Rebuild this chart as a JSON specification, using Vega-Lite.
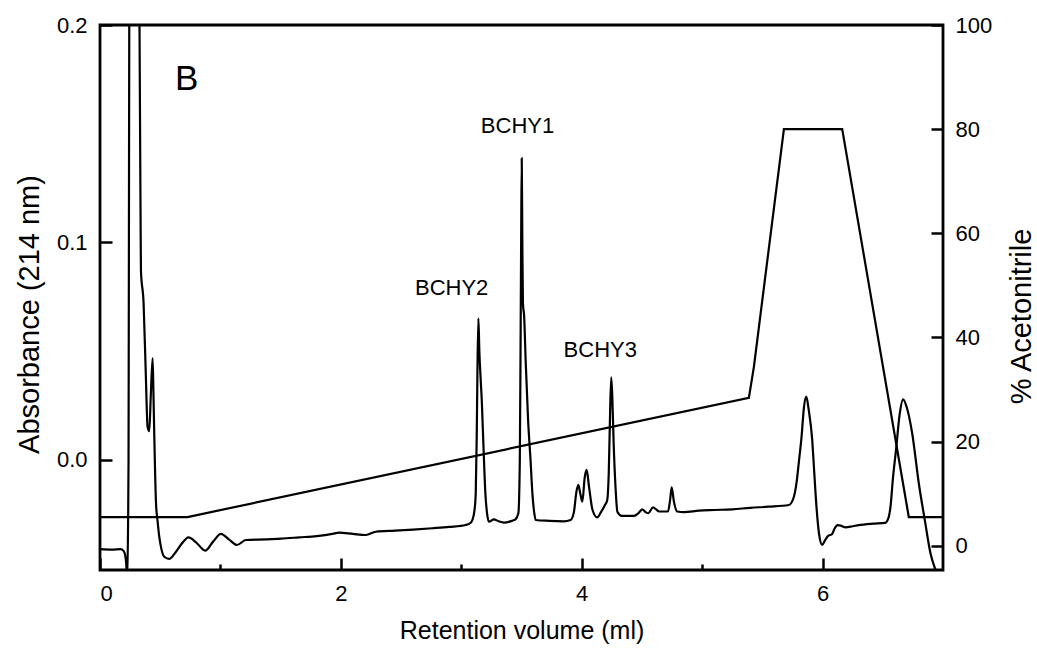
{
  "$schema": "https://vega.github.io/schema/vega-lite/v6.json",
  "width": 843,
  "height": 545,
  "autosize": {"type": "none"},
  "padding": {"left": 100, "top": 25, "right": 94, "bottom": 83},
  "background": "white",
  "config": {
    "view": {"stroke": "black", "strokeWidth": 2.8},
    "font": "Liberation Sans",
    "axis": {
      "domain": false,
      "grid": false,
      "tickColor": "black",
      "tickWidth": 2.5,
      "labelColor": "black",
      "titleColor": "black",
      "labelFont": "Liberation Sans",
      "titleFont": "Liberation Sans",
      "labelFontSize": 22,
      "titleFontSize": 29,
      "titleFontWeight": "normal"
    }
  },
  "datasets": {
    "trace": [
      {"v": 0.0, "a": -0.0410}, {"v": 0.10, "a": -0.0412}, {"v": 0.17, "a": -0.0410},
      {"v": 0.195, "a": -0.0418}, {"v": 0.208, "a": -0.0435}, {"v": 0.218, "a": -0.0480},
      {"v": 0.226, "a": -0.0560}, {"v": 0.233, "a": -0.0300}, {"v": 0.237, "a": 0.0},
      {"v": 0.240, "a": 0.1}, {"v": 0.243, "a": 0.2}, {"v": 0.25, "a": 0.32},
      {"v": 0.285, "a": 0.42}, {"v": 0.318, "a": 0.32}, {"v": 0.328, "a": 0.2},
      {"v": 0.336, "a": 0.12}, {"v": 0.340, "a": 0.087}, {"v": 0.362, "a": 0.072},
      {"v": 0.38, "a": 0.040}, {"v": 0.395, "a": 0.0153}, {"v": 0.409, "a": 0.0133},
      {"v": 0.422, "a": 0.030}, {"v": 0.437, "a": 0.0467}, {"v": 0.444, "a": 0.030},
      {"v": 0.451, "a": 0.0107}, {"v": 0.465, "a": -0.0198}, {"v": 0.478, "a": -0.0280},
      {"v": 0.492, "a": -0.0353}, {"v": 0.51, "a": -0.0410}, {"v": 0.534, "a": -0.0445},
      {"v": 0.575, "a": -0.0455}, {"v": 0.62, "a": -0.0430}, {"v": 0.672, "a": -0.0390},
      {"v": 0.735, "a": -0.0356}, {"v": 0.80, "a": -0.0380}, {"v": 0.874, "a": -0.0417},
      {"v": 0.94, "a": -0.0375}, {"v": 1.004, "a": -0.0340}, {"v": 1.07, "a": -0.0365},
      {"v": 1.137, "a": -0.0391}, {"v": 1.211, "a": -0.0368}, {"v": 1.378, "a": -0.0365},
      {"v": 1.50, "a": -0.0362}, {"v": 1.654, "a": -0.0356}, {"v": 1.80, "a": -0.0350},
      {"v": 1.930, "a": -0.0340}, {"v": 1.986, "a": -0.0334}, {"v": 2.10, "a": -0.0340},
      {"v": 2.207, "a": -0.0345}, {"v": 2.29, "a": -0.0330}, {"v": 2.45, "a": -0.0325},
      {"v": 2.60, "a": -0.0320}, {"v": 2.76, "a": -0.0314}, {"v": 2.90, "a": -0.0308},
      {"v": 3.037, "a": -0.0299}, {"v": 3.075, "a": -0.0290}, {"v": 3.092, "a": -0.0276},
      {"v": 3.110, "a": -0.0230}, {"v": 3.120, "a": -0.0153}, {"v": 3.128, "a": 0.0100},
      {"v": 3.134, "a": 0.0400}, {"v": 3.142, "a": 0.0651}, {"v": 3.150, "a": 0.0500},
      {"v": 3.160, "a": 0.0380}, {"v": 3.170, "a": 0.0276}, {"v": 3.185, "a": 0.0050},
      {"v": 3.200, "a": -0.0153}, {"v": 3.215, "a": -0.0250}, {"v": 3.230, "a": -0.0284},
      {"v": 3.270, "a": -0.0273}, {"v": 3.310, "a": -0.0282}, {"v": 3.355, "a": -0.0288},
      {"v": 3.420, "a": -0.0280}, {"v": 3.450, "a": -0.0273}, {"v": 3.474, "a": -0.0245},
      {"v": 3.486, "a": 0.0}, {"v": 3.492, "a": 0.05}, {"v": 3.497, "a": 0.10},
      {"v": 3.502, "a": 0.1387}, {"v": 3.507, "a": 0.10}, {"v": 3.512, "a": 0.072},
      {"v": 3.522, "a": 0.066}, {"v": 3.535, "a": 0.045}, {"v": 3.555, "a": 0.018},
      {"v": 3.575, "a": 0.0}, {"v": 3.590, "a": -0.015}, {"v": 3.605, "a": -0.024},
      {"v": 3.618, "a": -0.0276}, {"v": 3.729, "a": -0.0280}, {"v": 3.850, "a": -0.0282},
      {"v": 3.908, "a": -0.0276}, {"v": 3.935, "a": -0.0240}, {"v": 3.955, "a": -0.0150},
      {"v": 3.972, "a": -0.0115}, {"v": 3.990, "a": -0.0160}, {"v": 4.005, "a": -0.0192},
      {"v": 4.025, "a": -0.0080}, {"v": 4.041, "a": -0.0046}, {"v": 4.060, "a": -0.0120},
      {"v": 4.090, "a": -0.0230}, {"v": 4.129, "a": -0.0264}, {"v": 4.160, "a": -0.0240},
      {"v": 4.193, "a": -0.0207}, {"v": 4.212, "a": -0.0184}, {"v": 4.225, "a": -0.0050},
      {"v": 4.235, "a": 0.0200}, {"v": 4.245, "a": 0.0380}, {"v": 4.254, "a": 0.0291},
      {"v": 4.265, "a": 0.0080}, {"v": 4.282, "a": -0.0138}, {"v": 4.296, "a": -0.0238},
      {"v": 4.332, "a": -0.0257}, {"v": 4.434, "a": -0.0257}, {"v": 4.470, "a": -0.0245},
      {"v": 4.503, "a": -0.0227}, {"v": 4.530, "a": -0.0240}, {"v": 4.553, "a": -0.0245},
      {"v": 4.592, "a": -0.0218}, {"v": 4.620, "a": -0.0228}, {"v": 4.642, "a": -0.0237},
      {"v": 4.716, "a": -0.0237}, {"v": 4.735, "a": -0.0180}, {"v": 4.747, "a": -0.0126},
      {"v": 4.765, "a": -0.0190}, {"v": 4.793, "a": -0.0237}, {"v": 4.850, "a": -0.0240},
      {"v": 4.973, "a": -0.0233}, {"v": 5.100, "a": -0.0230}, {"v": 5.250, "a": -0.0227},
      {"v": 5.400, "a": -0.0220}, {"v": 5.550, "a": -0.0215}, {"v": 5.720, "a": -0.0207},
      {"v": 5.762, "a": -0.0169}, {"v": 5.785, "a": -0.0100}, {"v": 5.803, "a": -0.0010},
      {"v": 5.826, "a": 0.0110}, {"v": 5.845, "a": 0.0240}, {"v": 5.865, "a": 0.0291},
      {"v": 5.885, "a": 0.0230}, {"v": 5.914, "a": 0.0092}, {"v": 5.928, "a": -0.0031},
      {"v": 5.950, "a": -0.0220}, {"v": 5.970, "a": -0.0337}, {"v": 5.997, "a": -0.0391},
      {"v": 6.020, "a": -0.0370}, {"v": 6.045, "a": -0.0350}, {"v": 6.080, "a": -0.0340},
      {"v": 6.100, "a": -0.0315}, {"v": 6.125, "a": -0.0300}, {"v": 6.150, "a": -0.0302},
      {"v": 6.190, "a": -0.0310}, {"v": 6.250, "a": -0.0305}, {"v": 6.300, "a": -0.0300},
      {"v": 6.420, "a": -0.0293}, {"v": 6.520, "a": -0.0289}, {"v": 6.545, "a": -0.0270},
      {"v": 6.564, "a": -0.0215}, {"v": 6.585, "a": -0.0080}, {"v": 6.610, "a": 0.0046},
      {"v": 6.640, "a": 0.0210}, {"v": 6.669, "a": 0.0279}, {"v": 6.700, "a": 0.0240},
      {"v": 6.744, "a": 0.0123}, {"v": 6.799, "a": -0.0107}, {"v": 6.850, "a": -0.0280},
      {"v": 6.896, "a": -0.0429}, {"v": 6.940, "a": -0.0510}, {"v": 6.980, "a": -0.0580}
    ],
    "gradient": [
      {"v": 0.0, "p": 5.5}, {"v": 0.727, "p": 5.5}, {"v": 5.388, "p": 28.4},
      {"v": 5.43, "p": 34.4}, {"v": 5.679, "p": 80}, {"v": 6.163, "p": 80},
      {"v": 6.716, "p": 5.5}, {"v": 7.0, "p": 5.5}
    ],
    "peaks": [
      {"v": 3.467, "a": 0.1502, "label": "BCHY1"},
      {"v": 2.92, "a": 0.0758, "label": "BCHY2"},
      {"v": 4.154, "a": 0.0474, "label": "BCHY3"}
    ],
    "panel": [
      {"v": 0.623, "a": 0.1701, "label": "B"}
    ]
  },
  "resolve": {
    "scale": {"y": "independent"},
    "axis": {"x": "independent", "y": "independent"}
  },
  "layer": [
    {
      "data": {"name": "trace"},
      "mark": {"type": "line", "clip": true, "color": "black", "strokeWidth": 2.2, "interpolate": "monotone"},
      "encoding": {
        "x": {
          "field": "v", "type": "quantitative",
          "scale": {"domain": [0, 7], "nice": false, "zero": false},
          "axis": {"orient": "bottom", "values": [0, 2, 4, 6], "format": "d", "tickSize": -12, "labelPadding": 25, "title": "Retention volume (ml)", "titleFontSize": 25, "titlePadding": 14}
        },
        "y": {
          "field": "a", "type": "quantitative",
          "scale": {"domain": [-0.0506, 0.2], "nice": false, "zero": false},
          "axis": {"orient": "left", "values": [0, 0.1, 0.2], "format": ".1f", "tickSize": -12, "labelPadding": 25, "title": "Absorbance (214 nm)", "titlePadding": 12, "titleY": 289}
        }
      }
    },
    {
      "data": {"name": "gradient"},
      "mark": {"type": "line", "clip": true, "color": "black", "strokeWidth": 2.2},
      "encoding": {
        "x": {
          "field": "v", "type": "quantitative",
          "scale": {"domain": [0, 7], "nice": false, "zero": false},
          "axis": {"orient": "bottom", "values": [1, 3, 5], "labels": false, "tickSize": -6, "title": null}
        },
        "y": {
          "field": "p", "type": "quantitative",
          "scale": {"domain": [-4.67, 100], "nice": false, "zero": false},
          "axis": {"orient": "right", "values": [0, 20, 40, 60, 80, 100], "format": "d", "tickSize": -12, "labelPadding": 24, "title": "% Acetonitrile", "titleAngle": -90, "titleBaseline": "top", "titlePadding": 16, "titleY": 291}
        }
      }
    },
    {
      "data": {"name": "peaks"},
      "mark": {"type": "text", "color": "black", "font": "Liberation Sans", "fontSize": 22, "align": "center", "baseline": "alphabetic"},
      "encoding": {
        "x": {"field": "v", "type": "quantitative", "scale": {"domain": [0, 7], "nice": false, "zero": false}, "axis": null},
        "y": {"field": "a", "type": "quantitative", "scale": {"domain": [-0.0506, 0.2], "nice": false, "zero": false}, "axis": null},
        "text": {"field": "label"}
      }
    },
    {
      "data": {"name": "panel"},
      "mark": {"type": "text", "color": "black", "font": "Liberation Sans", "fontSize": 35, "align": "left", "baseline": "alphabetic"},
      "encoding": {
        "x": {"field": "v", "type": "quantitative", "scale": {"domain": [0, 7], "nice": false, "zero": false}, "axis": null},
        "y": {"field": "a", "type": "quantitative", "scale": {"domain": [-0.0506, 0.2], "nice": false, "zero": false}, "axis": null},
        "text": {"field": "label"}
      }
    }
  ]
}
